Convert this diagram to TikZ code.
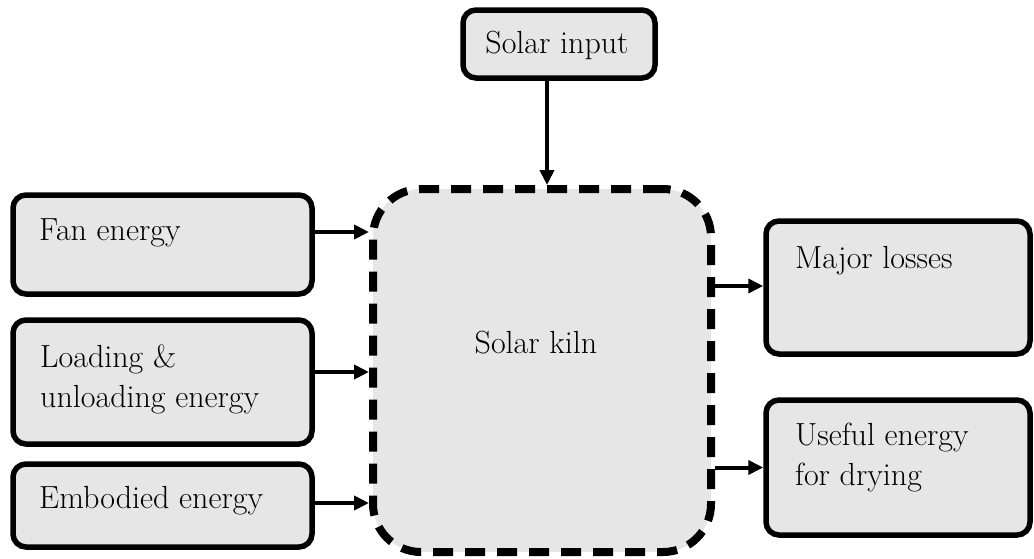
\documentclass[tikz,border=0pt]{standalone}
\usetikzlibrary{arrows.meta}
\definecolor{boxgray}{RGB}{230,230,230}
\begin{document}
\begin{tikzpicture}[x=1pt,y=-1pt,
  box/.style={draw=black, line width=5.5pt, fill=boxgray, rounded corners=13pt, inner sep=0pt},
  kilnbox/.style={draw=black, line width=8pt, fill=boxgray, rounded corners=48pt, inner sep=0pt,
    dash pattern=on 20pt off 12pt},
  lbl/.style={inner sep=0pt, anchor=base west, font=\fontsize{32}{40}\selectfont, align=left},
  arr/.style={line width=4pt, -{Triangle[length=15pt,width=14pt]}}]
\useasboundingbox (0,0) rectangle (1034,558);

\node[box, minimum width=192pt, minimum height=68pt] (solar) at (559,44) {};
\node[kilnbox, minimum width=338pt, minimum height=363pt] (kiln) at (542,370.5) {};
\node[box, minimum width=299pt, minimum height=99pt] (fan) at (162.5,244.5) {};
\node[box, minimum width=299pt, minimum height=124pt] (load) at (162.5,382) {};
\node[box, minimum width=299pt, minimum height=83pt] (emb) at (162.5,505.5) {};
\node[box, minimum width=264pt, minimum height=133pt] (major) at (898,287.5) {};
\node[box, minimum width=264pt, minimum height=135pt] (useful) at (898,467.5) {};

\node[lbl, anchor=base] (tsolar) at (557,53) {Solar input};
\node[lbl, anchor=base] (tkiln) at (536,353) {Solar kiln};
\node[lbl] (tfan) at (39,240) {Fan energy};
\node[lbl] (tload) at (40,407) {Loading \&\\unloading energy};
\node[lbl] (temb) at (39,508) {Embodied energy};
\node[lbl] (tmajor) at (795,268) {Major losses};
\node[lbl] (tuseful) at (795,485) {Useful energy\\for drying};

\coordinate (s1) at ([xshift=-12pt]solar.south);
\draw[arr] (s1) -- (s1 |- kiln.north);
\coordinate (f1) at ([yshift=12.5pt]fan.east);
\draw[arr] (f1) -- (f1 -| kiln.west);
\coordinate (l1) at ([yshift=10pt]load.east);
\draw[arr] (l1) -- (l1 -| kiln.west);
\coordinate (e1) at ([yshift=2.5pt]emb.east);
\draw[arr] (e1) -- (e1 -| kiln.west);
\coordinate (m1) at ([yshift=1.5pt]major.west);
\draw[arr] (m1 -| kiln.east) -- (m1);
\coordinate (u1) at (useful.west);
\draw[arr] (u1 -| kiln.east) -- (u1);
\end{tikzpicture}
\end{document}
